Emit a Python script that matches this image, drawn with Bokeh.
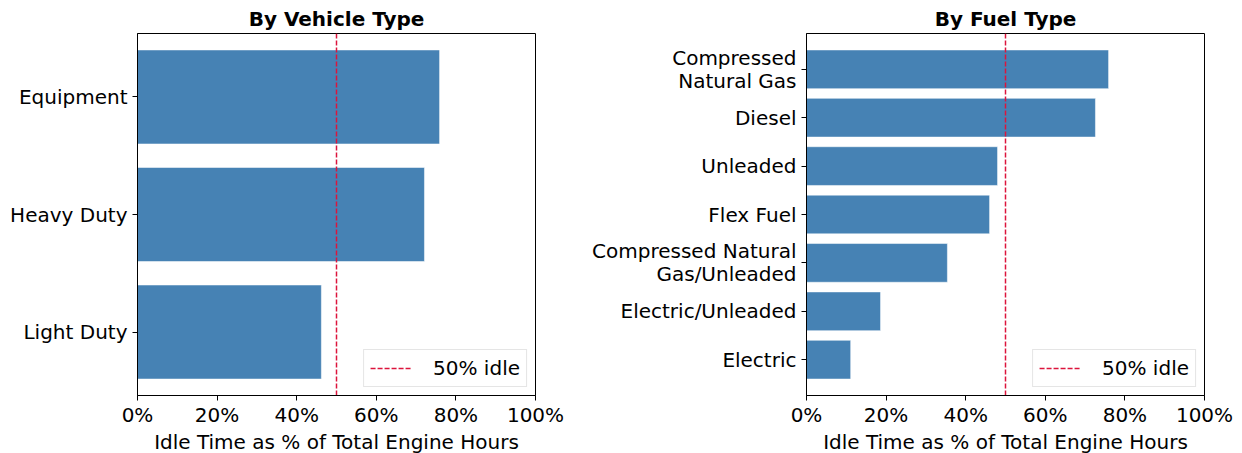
from bokeh.plotting import figure
from bokeh.models import Range1d, FixedTicker, PrintfTickFormatter, ColumnDataSource
from bokeh.layouts import row
from bokeh.embed import file_html
from bokeh.resources import INLINE

# ---- data ----
vehicle_types = ["Equipment", "Heavy Duty", "Light Duty"]          # top to bottom
vehicle_idle_pct = [75.9, 72.1, 46.2]

fuel_types = ["Compressed\nNatural Gas", "Diesel", "Unleaded", "Flex Fuel",
              "Compressed Natural\nGas/Unleaded", "Electric/Unleaded", "Electric"]  # top to bottom
fuel_idle_pct = [75.9, 72.6, 48.0, 46.0, 35.4, 18.6, 11.1]

threshold_pct = 50
threshold_label = "50% idle"
x_ticks = [0, 20, 40, 60, 80, 100]
x_label = "Idle Time as % of Total Engine Hours"

FONT = "DejaVu Sans"
BAR = "#4682B4"
RED = "#DC143C"


def make_panel(title, cats, vals, border_left, border_right):
    n = len(cats)
    ys = [n - 1 - i for i in range(n)]
    pad = 0.4 + 0.05 * (n - 1 + 0.8)
    y0, y1 = -pad, n - 1 + pad
    p = figure(frame_width=398, frame_height=362, output_backend="svg", toolbar_location=None,
               x_range=Range1d(0, 100), y_range=Range1d(y0, y1),
               min_border_left=border_left, min_border_right=border_right,
               min_border_top=33, min_border_bottom=5, title=title)
    src = ColumnDataSource(dict(y=ys, v=vals))
    p.hbar(y="y", right="v", left=0, height=0.8, source=src,
           fill_color=BAR, line_color="white", line_alpha=0.5, line_width=1)
    p.line(x=[threshold_pct, threshold_pct], y=[y0, y1], line_color=RED,
           line_dash="5 2", line_width=1.5, legend_label=threshold_label)

    p.title.align = "center"
    p.title.text_font = FONT
    p.title.text_font_size = "20px"
    p.title.text_font_style = "bold"
    p.title.text_color = "black"
    p.title.standoff = 5

    p.xgrid.visible = False
    p.ygrid.visible = False
    p.outline_line_color = "black"
    p.outline_line_width = 1
    p.outline_line_alpha = 1

    xa = p.xaxis[0]
    xa.ticker = FixedTicker(ticks=x_ticks)
    xa.formatter = PrintfTickFormatter(format="%d%%")
    xa.axis_label = x_label
    ya = p.yaxis[0]
    ya.ticker = FixedTicker(ticks=ys)
    ya.major_label_overrides = {y: c for y, c in zip(ys, cats)}
    for ax in (xa, ya):
        ax.major_label_text_font = FONT
        ax.major_label_text_font_size = "20px"
        ax.major_label_text_color = "black"
        ax.major_label_text_line_height = 0.95
        ax.axis_label_text_font = FONT
        ax.axis_label_text_font_size = "20px"
        ax.axis_label_text_font_style = "normal"
        ax.axis_label_text_color = "black"
        ax.axis_label_standoff = 0
        ax.minor_tick_line_color = None
        ax.major_tick_out = 5
        ax.major_tick_in = 0
        ax.major_tick_line_color = "black"
        ax.axis_line_color = "black"
        ax.major_label_standoff = 2
    xa.major_label_text_line_height = 1.0
    ya.major_label_standoff = 5

    lg = p.legend[0]
    lg.location = "bottom_right"
    lg.margin = 8
    lg.padding = 6
    lg.glyph_width = 42
    lg.label_standoff = 21
    lg.label_text_font = FONT
    lg.label_text_font_size = "20px"
    lg.label_text_color = "black"
    lg.label_height = 20
    lg.glyph_height = 20
    lg.border_line_color = "#cccccc"
    lg.border_line_width = 1
    lg.background_fill_alpha = 0.8
    return p


p1 = make_panel("By Vehicle Type", vehicle_types, vehicle_idle_pct, 137, 33)
p2 = make_panel("By Fuel Type", fuel_types, fuel_idle_pct, 238, 30)

layout = row(p1, p2)
open("out.html", "w").write(file_html(layout, INLINE))
